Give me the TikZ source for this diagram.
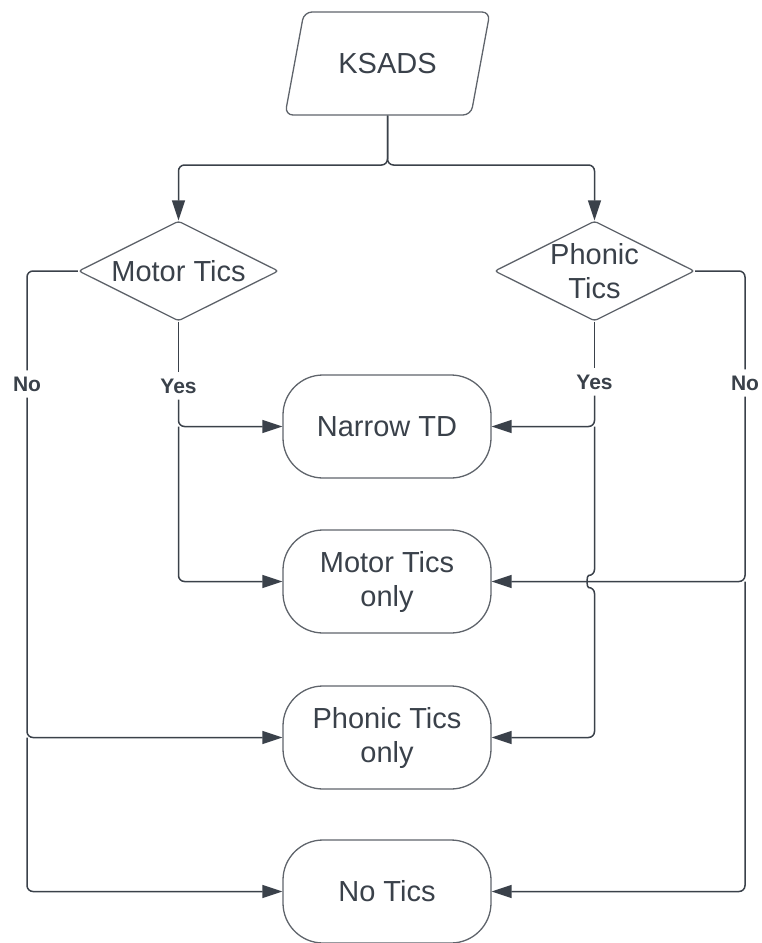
\documentclass[tikz,border=0pt]{standalone}
\usepackage{fontspec}
\setmainfont{Liberation Sans}
\usetikzlibrary{shapes.geometric,arrows.meta}
\definecolor{ink}{HTML}{3A414A}
\definecolor{outline}{HTML}{5F646B}
\tikzset{
  txt/.style={text=ink, font=\fontsize{29pt}{34pt}\selectfont, align=center},
  source/.style={txt, draw=outline, line width=1.3pt, trapezium, trapezium left angle=55,
    trapezium right angle=125, trapezium stretches body=true, minimum width=205pt,
    minimum height=103pt, rounded corners=8pt},
  decision/.style={txt, draw=outline, line width=1.3pt, diamond, aspect=2, inner sep=0pt,
    minimum width=200pt, minimum height=100pt, rounded corners=3pt},
  outcome/.style={txt, draw=outline, line width=1.3pt, rectangle, rounded corners=40pt,
    minimum width=208pt, minimum height=103pt},
  answer/.style={text=ink, font=\bfseries\fontsize{21pt}{25pt}\selectfont, inner sep=6pt},
  wire/.style={draw=ink, line width=1.5pt, rounded corners=6pt},
  flow/.style={wire, -{Triangle[length=20pt,width=13pt]}},
}
\begin{document}
\begin{tikzpicture}[x=1pt, y=-1pt]
    \useasboundingbox (0,0) rectangle (761,943);

    \node[source] (ksads) at (387.5,63.5) {KSADS};
    \node[decision] (motor) at (178.5,271) {Motor Tics};
    \node[decision] (phonic) at (594.5,271) {Phonic\\Tics};

    \node[outcome] (narrow) at (387,426.5) {Narrow TD};
    \node[outcome] (motoronly) at (387,581.5) {Motor Tics\\only};
    \node[outcome] (phonicsonly) at (387,737.5) {Phonic Tics\\only};
    \node[outcome] (notics) at (387,891.5) {No Tics};

    \node[answer] (motorno) at (27,384) {No};
    \node[answer] (motoryes) at (178.5,386) {Yes};
    \node[answer] (phonicyes) at (594.5,382) {Yes};
    \node[answer] (phonicno) at (745,383) {No};

    % KSADS splits to both questions
    \coordinate (fork) at (387.5,165);
    \draw[flow] (ksads.south -| ksads.center) -- (fork) -| (motor.north);
    \draw[flow] (ksads.south -| ksads.center) -- (fork) -| (phonic.north);

    % motor tics
    \draw[wire] (motor.west) -| (motorno.north);
    \draw[flow] (motorno.south) |- (phonicsonly.west);
    \draw[flow] (motorno.south |- phonicsonly.west) |- (notics.west);
    \draw[wire] (motor.south) -- (motoryes.north);
    \draw[flow] (motoryes.south) |- (narrow.west);
    \draw[flow] (motoryes.south |- narrow.west) |- (motoronly.west);

    % phonic tics
    \draw[wire] (phonic.south) -- (phonicyes.north);
    \draw[flow] (phonicyes.south) |- (narrow.east);
    \coordinate (hop) at (phonicyes.south |- motoronly.east);
    \draw[flow] (phonicyes.south |- narrow.east) -- ([yshift=6pt]hop)
        .. controls +(-8pt,0) and +(-8pt,0) .. ([yshift=-6pt]hop) |- (phonicsonly.east);
    \draw[wire] (phonic.east) -| (phonicno.north);
    \draw[flow] (phonicno.south) |- (motoronly.east);
    \draw[flow] (phonicno.south |- motoronly.east) |- (notics.east);
\end{tikzpicture}
\end{document}
